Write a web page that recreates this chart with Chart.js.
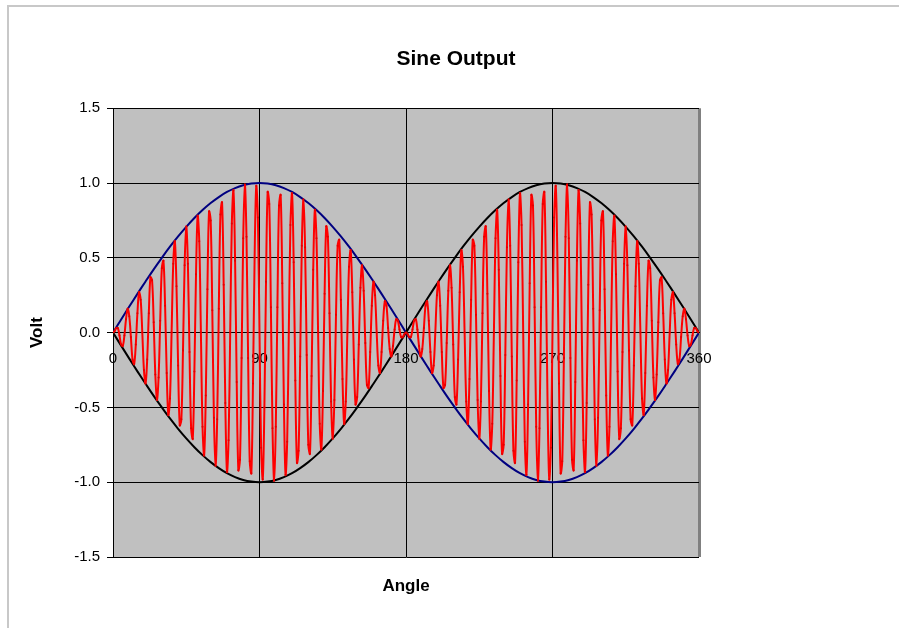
<!DOCTYPE html>
<html>
<head>
<meta charset="utf-8">
<script src="https://cdn.jsdelivr.net/npm/chart.js@4/dist/chart.umd.min.js"></script>
<style>
  body { margin: 0; background: #fff; }
  #wrap { position: relative; width: 899px; height: 628px; overflow: hidden; }
  #frame { position: absolute; left: 7px; top: 5px; width: 1000px; height: 1000px;
           border-top: 2px solid #c8c8c8; border-left: 2px solid #c8c8c8; }
  #sine { position: absolute; left: 0; top: 0; }
</style>
</head>
<body>
<div id="wrap">
  <div id="frame"></div>
  <canvas id="sine" width="899" height="628"></canvas>
</div>
<script>
// output signal, one sample per degree (0..360)
const outputStep = 1
const outputValues = [
    0, 0.01, 0.03, 0.03, -0.02, -0.08, -0.09, -0.02, 0.09, 0.16,
    0.11, -0.03, -0.18, -0.21, -0.08, 0.13, 0.27, 0.22, 0, -0.25,
    -0.34, -0.18, 0.13, 0.37, 0.35, 0.07, -0.28, -0.45, -0.30, 0.08,
    0.43, 0.48, 0.18, -0.27, -0.55, -0.44, 0, 0.46, 0.61, 0.31,
    -0.22, -0.62, -0.58, -0.12, 0.45, 0.71, 0.46, -0.13, -0.64, -0.71,
    -0.26, 0.39, 0.78, 0.61, 0, -0.63, -0.82, -0.42, 0.29, 0.81,
    0.75, 0.15, -0.57, -0.89, -0.58, 0.16, 0.79, 0.87, 0.32, -0.47,
    -0.93, -0.72, 0, 0.73, 0.95, 0.48, -0.33, -0.92, -0.85, -0.17,
    0.63, 0.99, 0.64, -0.17, -0.86, -0.94, -0.34, 0.50, 0.98, 0.77,
    0, -0.77, -0.98, -0.50, 0.34, 0.94, 0.86, 0.17, -0.64, -0.99,
    -0.63, 0.17, 0.85, 0.92, 0.33, -0.48, -0.95, -0.73, 0, 0.72,
    0.93, 0.47, -0.32, -0.87, -0.79, -0.16, 0.58, 0.89, 0.57, -0.15,
    -0.75, -0.81, -0.29, 0.42, 0.82, 0.63, 0, -0.61, -0.78, -0.39,
    0.26, 0.71, 0.64, 0.13, -0.46, -0.71, -0.45, 0.12, 0.58, 0.62,
    0.22, -0.31, -0.61, -0.46, 0, 0.44, 0.55, 0.27, -0.18, -0.48,
    -0.43, -0.08, 0.30, 0.45, 0.28, -0.07, -0.35, -0.37, -0.13, 0.18,
    0.34, 0.25, 0, -0.22, -0.27, -0.13, 0.08, 0.21, 0.18, 0.03,
    -0.11, -0.16, -0.09, 0.02, 0.09, 0.08, 0.02, -0.03, -0.03, -0.01,
    0, -0.01, -0.03, -0.03, 0.02, 0.08, 0.09, 0.02, -0.09, -0.16,
    -0.11, 0.03, 0.18, 0.21, 0.08, -0.13, -0.27, -0.22, 0, 0.25,
    0.34, 0.18, -0.13, -0.37, -0.35, -0.07, 0.28, 0.45, 0.30, -0.08,
    -0.43, -0.48, -0.18, 0.27, 0.55, 0.44, 0, -0.46, -0.61, -0.31,
    0.22, 0.62, 0.58, 0.12, -0.45, -0.71, -0.46, 0.13, 0.64, 0.71,
    0.26, -0.39, -0.78, -0.61, 0, 0.63, 0.82, 0.42, -0.29, -0.81,
    -0.75, -0.15, 0.57, 0.89, 0.58, -0.16, -0.79, -0.87, -0.32, 0.47,
    0.93, 0.72, 0, -0.73, -0.95, -0.48, 0.33, 0.92, 0.85, 0.17,
    -0.63, -0.99, -0.64, 0.17, 0.86, 0.94, 0.34, -0.50, -0.98, -0.77,
    0, 0.77, 0.98, 0.50, -0.34, -0.94, -0.86, -0.17, 0.64, 0.99,
    0.63, -0.17, -0.85, -0.92, -0.33, 0.48, 0.95, 0.73, 0, -0.72,
    -0.93, -0.47, 0.32, 0.87, 0.79, 0.16, -0.58, -0.89, -0.57, 0.15,
    0.75, 0.81, 0.29, -0.42, -0.82, -0.63, 0, 0.61, 0.78, 0.39,
    -0.26, -0.71, -0.64, -0.13, 0.46, 0.71, 0.45, -0.12, -0.58, -0.62,
    -0.22, 0.31, 0.61, 0.46, 0, -0.44, -0.55, -0.27, 0.18, 0.48,
    0.43, 0.08, -0.30, -0.45, -0.28, 0.07, 0.35, 0.37, 0.13, -0.18,
    -0.34, -0.25, 0, 0.22, 0.27, 0.13, -0.08, -0.21, -0.18, -0.03,
    0.11, 0.16, 0.09, -0.02, -0.09, -0.08, -0.02, 0.03, 0.03, 0.01,
    0
]

// envelopes, every 5 degrees
const envelopeStep = 5
const upperEnvelope = [
    0, 0.087, 0.174, 0.259, 0.342, 0.423, 0.5, 0.574, 0.643, 0.707,
    0.766, 0.819, 0.866, 0.906, 0.940, 0.966, 0.985, 0.996, 1, 0.996,
    0.985, 0.966, 0.940, 0.906, 0.866, 0.819, 0.766, 0.707, 0.643, 0.574,
    0.5, 0.423, 0.342, 0.259, 0.174, 0.087, 0, -0.087, -0.174, -0.259,
    -0.342, -0.423, -0.5, -0.574, -0.643, -0.707, -0.766, -0.819, -0.866, -0.906,
    -0.940, -0.966, -0.985, -0.996, -1, -0.996, -0.985, -0.966, -0.940, -0.906,
    -0.866, -0.819, -0.766, -0.707, -0.643, -0.574, -0.5, -0.423, -0.342, -0.259,
    -0.174, -0.087, 0
]
const lowerEnvelope = [
    0, -0.087, -0.174, -0.259, -0.342, -0.423, -0.5, -0.574, -0.643, -0.707,
    -0.766, -0.819, -0.866, -0.906, -0.940, -0.966, -0.985, -0.996, -1, -0.996,
    -0.985, -0.966, -0.940, -0.906, -0.866, -0.819, -0.766, -0.707, -0.643, -0.574,
    -0.5, -0.423, -0.342, -0.259, -0.174, -0.087, 0, 0.087, 0.174, 0.259,
    0.342, 0.423, 0.5, 0.574, 0.643, 0.707, 0.766, 0.819, 0.866, 0.906,
    0.940, 0.966, 0.985, 0.996, 1, 0.996, 0.985, 0.966, 0.940, 0.906,
    0.866, 0.819, 0.766, 0.707, 0.643, 0.574, 0.5, 0.423, 0.342, 0.259,
    0.174, 0.087, 0
]

const angleTicks = [0, 90, 180, 270, 360]
const voltTicks = [-1.5, -1.0, -0.5, 0.0, 0.5, 1.0, 1.5]

function toPoints(values, step) {
    return values.map((v, i) => ({ x: i * step, y: v }))
}

Chart.defaults.font.family = '"Liberation Sans", Arial, sans-serif'
Chart.defaults.color = '#000'

const plotBackground = {
    id: 'plotBackground',
    beforeDraw(chart) {
        const { ctx, chartArea } = chart
        ctx.save()
        ctx.fillStyle = '#c0c0c0'
        ctx.fillRect(chartArea.left, chartArea.top, chartArea.right - chartArea.left, chartArea.bottom - chartArea.top)
        ctx.restore()
    }
}

const config = {
    type: 'line',
    data: {
        datasets: [
            {
                label: 'Output',
                data: toPoints(outputValues, outputStep),
                borderColor: '#ff0000',
                borderWidth: 2,
                pointRadius: 1,
                pointBackgroundColor: '#e00000',
                pointBorderWidth: 0,
                tension: 0.35
            },
            {
                label: '-Sine',
                data: toPoints(lowerEnvelope, envelopeStep),
                borderColor: '#000000',
                borderWidth: 2,
                pointRadius: 0,
                tension: 0.4
            },
            {
                label: 'Sine',
                data: toPoints(upperEnvelope, envelopeStep),
                borderColor: '#000080',
                borderWidth: 2,
                pointRadius: 0,
                tension: 0.4
            }
        ]
    },
    options: {
        responsive: false,
        animation: false,
        devicePixelRatio: 1,
        layout: { padding: { left: 13, top: 0, right: 0, bottom: 0 } },
        plugins: {
            legend: { display: false },
            tooltip: { enabled: false },
            title: {
                display: true,
                text: 'Sine Output',
                color: '#000',
                font: { size: 21, weight: 'bold' },
                padding: { top: 47, bottom: 36 }
            }
        },
        scales: {
            x: {
                type: 'linear',
                position: { y: 0 },
                min: 0,
                max: 360,
                afterBuildTicks: (axis) => {
                    axis.ticks = angleTicks.map(v => ({ value: v }))
                },
                ticks: {
                    font: { size: 15 },
                    padding: 17,
                    maxRotation: 0,
                    autoSkip: false
                },
                grid: {
                    drawTicks: false,
                    color: (c) => c.tick && c.tick.value === 360 ? '#808080' : '#000',
                    lineWidth: (c) => c.tick && c.tick.value === 360 ? 3 : 1
                },
                border: { color: '#000', width: 1 }
            },
            x2: {
                type: 'linear',
                position: 'bottom',
                min: 0,
                max: 360,
                ticks: { display: false },
                grid: { display: false, drawTicks: false },
                border: { display: false },
                title: {
                    display: true,
                    text: 'Angle',
                    font: { size: 17, weight: 'bold' },
                    padding: { top: 0, bottom: 31 }
                },
                afterFit: (scale) => { scale.height = 71 }
            },
            y: {
                type: 'linear',
                position: 'left',
                min: -1.5,
                max: 1.5,
                afterBuildTicks: (axis) => {
                    axis.ticks = voltTicks.map(v => ({ value: v }))
                },
                ticks: {
                    font: { size: 15 },
                    padding: 7,
                    callback: (v) => Number(v).toFixed(1)
                },
                grid: { color: '#000', tickLength: 6 },
                border: { color: '#000', width: 1 },
                title: {
                    display: true,
                    text: 'Volt',
                    font: { size: 17, weight: 'bold' },
                    padding: { top: 14, bottom: 0 }
                },
                afterFit: (scale) => { scale.width = 100 }
            },
            y2: {
                type: 'linear',
                position: 'right',
                ticks: { display: false },
                grid: { display: false, drawTicks: false },
                border: { display: false },
                afterFit: (scale) => { scale.width = 200 }
            }
        }
    },
    plugins: [plotBackground]
}

const sineChart = new Chart(document.getElementById('sine'), config)
</script>
</body>
</html>
